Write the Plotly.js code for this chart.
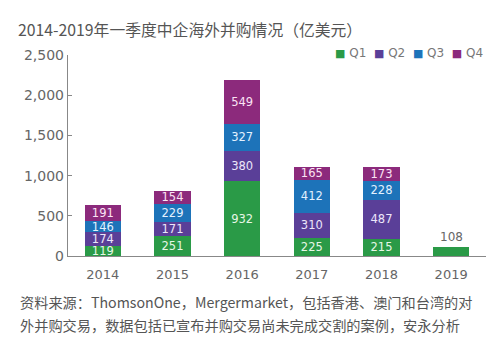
<!DOCTYPE html>
<html><head><meta charset="utf-8">
<script src="https://cdn.plot.ly/plotly-3.0.1.min.js"></script>
<style>html,body{margin:0;padding:0;background:#fff}#chart{width:500px;height:357px}</style>
</head><body><div id="chart"></div>
<script>
const years = ['2014','2015','2016','2017','2018','2019'];
const q1 = [119, 251, 932, 225, 215, 108];
const q2 = [174, 171, 380, 310, 487, null];
const q3 = [146, 229, 327, 412, 228, null];
const q4 = [191, 154, 549, 165, 173, null];
const seriesNames = ['Q1','Q2','Q3','Q4'];
const titleText = '2014-2019年一季度中企海外并购情况（亿美元）';
const sourceLines = ['资料来源：ThomsonOne，Mergermarket，包括香港、澳门和台湾的对', '外并购交易，数据包括已宣布并购交易尚未完成交割的案例，安永分析'];

const colors = ['#2a9a47','#5a3f98','#1d73b9','#8c2a7c'];
const txtColors = ['#e6f7e6','#ece6fa','#e3f1ff','#fbe3f4'];
const series = [q1,q2,q3,q4];
const numFont = 'DejaVu Sans, Verdana, sans-serif';
const lastIdx = years.length - 1;

const traces = series.map((vals,i)=>({
  type:'bar', x:years, y:vals, name:seriesNames[i],
  marker:{color:colors[i], line:{width:0}},
  text: vals.map((v,j)=> (v==null || (i===0 && j===lastIdx)) ? '' : String(v)),
  textposition:'inside', insidetextanchor:'middle',
  textfont:{family:numFont, size:11.5, color:txtColors[i]},
  constraintext:'none', hoverinfo:'none', showlegend:false
}));

const annotations = [{
  x: lastIdx, y: q1[lastIdx], xref:'x', yref:'y', text:String(q1[lastIdx]),
  showarrow:false, yanchor:'bottom', yshift:1,
  font:{family:numFont, size:12, color:'#666'}
}];
sourceLines.forEach((t,k)=>annotations.push({
  xref:'paper', yref:'paper', x:-0.12, y:-0.23 - k*0.115, xanchor:'left', yanchor:'middle',
  text:t, showarrow:false, font:{family:'Noto Sans CJK SC, sans-serif', size:14.2, color:'#555'}
}));
// custom compact legend (real text)
const legendText = seriesNames.map((n,i)=>
  '<span style="color:' + colors[i] + ';font-size:11px">■</span> ' + n).join('  ');
annotations.push({
  xref:'paper', yref:'paper', x:0.997, y:1.01, xanchor:'right', yanchor:'middle',
  text:legendText, showarrow:false, font:{family:numFont, size:12, color:'#777'}
});

const layout = {
  width:500, height:357,
  margin:{l:68, r:14, t:55, b:101},
  paper_bgcolor:'#fff', plot_bgcolor:'#fff',
  barmode:'stack', bargap:0.48,
  title:{text:titleText, x:0.036, xanchor:'left', y:0.915, yanchor:'middle',
    font:{family:'Noto Sans CJK SC, sans-serif', size:15.8, color:'#555'}},
  showlegend:false,
  xaxis:{type:'category', range:[-0.5, lastIdx + 0.5], showline:true, linecolor:'#888', linewidth:1.2,
    ticks:'', showgrid:false, zeroline:false, ticklabelstandoff:6,
    tickfont:{family:numFont, size:13, color:'#666'}},
  yaxis:{range:[0,2500], tickvals:[0,500,1000,1500,2000,2500],
    ticktext:['0','500','1,000','1,500','2,000','2,500'],
    showline:true, linecolor:'#888', linewidth:1.2, ticks:'inside', ticklen:4, tickcolor:'#888',
    showgrid:false, zeroline:false,
    tickfont:{family:numFont, size:14, color:'#666'}},
  annotations: annotations
};
Plotly.newPlot('chart', traces, layout, {displayModeBar:false, staticPlot:true});
</script></body></html>
